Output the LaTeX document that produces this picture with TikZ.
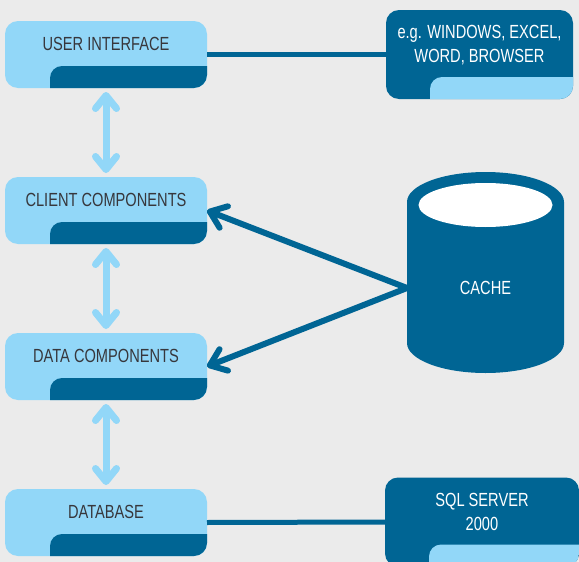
\documentclass[tikz,border=0pt]{standalone}
\usepackage{fontspec}
\usetikzlibrary{arrows.meta}
\newfontfamily\narrowfont{Liberation Sans}[FakeStretch=0.77]
\definecolor{paleblue}{RGB}{146,215,248}
\definecolor{deepblue}{RGB}{0,101,148}
\definecolor{bggrey}{RGB}{235,235,235}
\definecolor{inkgrey}{RGB}{55,55,60}
\begin{document}
\begin{tikzpicture}[x=1pt, y=-1pt,
tier/.style={fill=paleblue, rounded corners=13pt, minimum width=202pt, minimum height=67pt, inner sep=0pt, outer sep=0pt, text height=29pt, text depth=38pt, text=inkgrey, font=\narrowfont\fontsize{19}{24}\selectfont},
ext/.style={fill=deepblue, rounded corners=13pt, minimum width=187pt, minimum height=89pt, inner sep=0pt, outer sep=0pt, align=center, text height=52.5pt, text depth=36.5pt, text=white, font=\narrowfont\fontsize{19}{24}\selectfont},
link/.style={draw=deepblue, line width=5pt},
updown/.style={draw=paleblue, line width=7pt, line cap=round, {Straight Barb[length=13pt,width=21pt,round]}-{Straight Barb[length=13pt,width=21pt,round]}, shorten <=4pt, shorten >=4pt},
lookup/.style={draw=deepblue, line width=6pt, -{Straight Barb[length=15pt,width=23pt,round]}}]
\fill[bggrey] (0,0) rectangle (579,562);
\clip (0,0) rectangle (579,562);
\useasboundingbox (0,0) rectangle (579,562);

\node[tier] (ui) at (106,54.5) {USER INTERFACE};
\node[tier] (client) at (106,210.5) {CLIENT COMPONENTS};
\node[tier] (data) at (106,366.5) {DATA COMPONENTS};
\node[tier] (db) at (106,522.5) {DATABASE};
\node[ext] (win) at (479.5,54.5) {e.g. WINDOWS, EXCEL,\\WORD, BROWSER};
\node[ext, minimum width=194pt] (sql) at (482,522) {SQL SERVER\\2000};

% tabs along the bottom edge of each box
\foreach \n in {ui,client,data,db} {
  \begin{scope}
    \clip[rounded corners=13pt] (\n.north west) rectangle (\n.south east);
    \fill[deepblue, rounded corners=12pt] ([xshift=45pt,yshift=22pt]\n.south west) rectangle ([xshift=20pt,yshift=-20pt]\n.south east);
  \end{scope}
}
\foreach \n in {win,sql} {
  \begin{scope}
    \clip[rounded corners=13pt] (\n.north west) rectangle (\n.south east);
    \fill[paleblue, rounded corners=12pt] ([xshift=44pt,yshift=22pt]\n.south west) rectangle ([xshift=20pt,yshift=-20pt]\n.south east);
  \end{scope}
}

% cache drum
\fill[deepblue] (407,202) -- (407,343) arc[start angle=180, end angle=360, x radius=78.5pt, y radius=30pt] -- (564,202) arc[start angle=0, end angle=180, x radius=78.5pt, y radius=30pt] -- cycle;
\fill[white] (485.5,205) ellipse [x radius=67pt, y radius=22pt];
\node[inner sep=0pt, outer sep=0pt, minimum width=157pt, text=white, font=\narrowfont\fontsize{19}{24}\selectfont] (cache) at (485.5,288) {CACHE};

\draw [link] (ui.east) -- (win.west);
\draw [link] (db.east) -- (sql.west);
\draw [updown] (ui) -- (client);
\draw [updown] (client) -- (data);
\draw [updown] (data) -- (db);
\draw [lookup] (cache.west) -- (client.east);
\draw [lookup] (cache.west) -- (data.east);
\end{tikzpicture}
\end{document}
